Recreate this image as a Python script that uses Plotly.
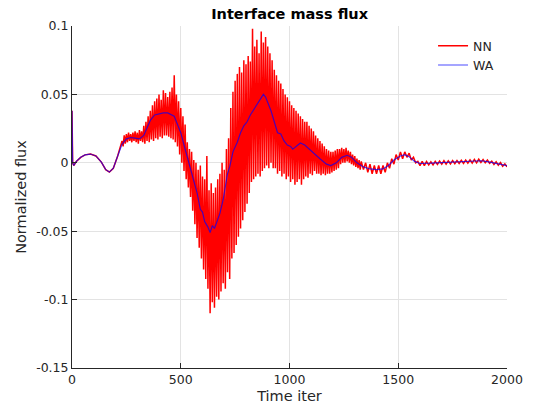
import plotly.graph_objects as go

# ---- data ----
WA_iter = [0, 3, 8, 20, 40, 60, 85, 110, 135, 155, 172, 190, 210, 230, 250, 270, 290, 310, 330, 345,
           360, 380, 400, 420, 440, 455, 470, 485, 500, 515, 530, 545, 560, 575, 590, 600, 610, 625, 635,
           645, 655, 665, 680, 695, 705, 715, 725, 740, 760, 775, 790, 805, 820, 835, 850, 865, 880, 890,
           900, 915, 930, 945, 960, 975, 990, 1005, 1015, 1030, 1050, 1070, 1090, 1110, 1140, 1170, 1190,
           1215, 1240, 1265, 1285, 1310, 1340, 1370, 1400, 1430, 1455, 1480, 1510, 1530, 1550, 1575, 1600,
           1650, 1700, 1750, 1800, 1850, 1880, 1910, 1950, 1980, 2000]
WA_val = [0.038, 0.0, -0.002, 0.001, 0.004, 0.0058, 0.0064, 0.005, 0.0005, -0.005, -0.0068, -0.004, 0.005,
          0.0135, 0.0175, 0.0185, 0.018, 0.0175, 0.02, 0.026, 0.031, 0.035, 0.036, 0.0365, 0.0365, 0.0355,
          0.034, 0.028, 0.022, 0.013, 0.004, -0.004, -0.013, -0.022, -0.034, -0.036, -0.043, -0.047, -0.051,
          -0.046, -0.048, -0.044, -0.037, -0.027, -0.018, -0.008, -0.003, 0.008, 0.015, 0.022, 0.027, 0.03,
          0.035, 0.039, 0.042, 0.047, 0.050, 0.048, 0.044, 0.038, 0.030, 0.022, 0.021, 0.016, 0.013, 0.012,
          0.010, 0.012, 0.0145, 0.013, 0.010, 0.007, 0.003, -0.001, -0.002, 0.0, 0.004, 0.0055, 0.004, 0.0,
          -0.003, -0.0045, -0.005, -0.0045, -0.002, 0.002, 0.005, 0.006, 0.0045, 0.001, -0.0005, -0.0003,
          0.0, 0.0005, 0.0006, 0.001, 0.0015, 0.0008, -0.0005, -0.0015, -0.002]

NN_iter_start = [0, 3, 8, 20, 40, 60, 85, 110, 135, 155, 172, 190, 210, 225]
NN_val_start = [0.038, 0.0, -0.002, 0.001, 0.004, 0.0058, 0.0064, 0.005, 0.0005, -0.005, -0.0068, -0.004,
                0.005, 0.012]
NN_iter_noisy = list(range(230, 1330, 5))
NN_val_noisy = [
    0.016, 0.012, 0.020, 0.014, 0.021, 0.015, 0.022, 0.016, 0.021, 0.015, 0.022, 0.016, 0.023, 0.015, 0.022, 0.014, 0.024, 0.016, 0.023, 0.015,
    0.027, 0.014, 0.030, 0.016, 0.034, 0.015, 0.038, 0.017, 0.042, 0.016, 0.045, 0.018, 0.047, 0.017, 0.050, 0.019, 0.046, 0.018, 0.053, 0.020,
    0.051, 0.020, 0.048, 0.019, 0.052, 0.018, 0.055, 0.017, 0.064, 0.015, 0.050, 0.012, 0.045, 0.006, 0.040, 0.000, 0.034, -0.006, 0.028, -0.012,
    0.015, -0.018, 0.010, -0.025, 0.008, -0.035, 0.002, -0.045, 0.000, -0.055, -0.005, -0.062, -0.002, -0.070, -0.010, -0.078, -0.012, -0.085, 0.005, -0.092,
    -0.020, -0.110, -0.015, -0.102, -0.022, -0.106, -0.018, -0.098, -0.012, -0.100, -0.008, -0.094, 0.000, -0.088, -0.005, -0.092, 0.010, -0.080, 0.018, -0.085,
    0.040, -0.070, 0.052, -0.066, 0.060, -0.060, 0.065, -0.054, 0.070, -0.048, 0.066, -0.042, 0.075, -0.036, 0.072, -0.030, 0.078, -0.022, 0.074, -0.014,
    0.098, -0.012, 0.085, -0.010, 0.090, -0.008, 0.080, -0.010, 0.096, -0.006, 0.088, -0.004, 0.092, -0.002, 0.085, -0.004, 0.080, 0.000, 0.075, -0.004,
    0.068, -0.004, 0.064, -0.008, 0.060, -0.006, 0.058, -0.010, 0.054, -0.008, 0.050, -0.012, 0.048, -0.010, 0.045, -0.014, 0.042, -0.012, 0.040, -0.016,
    0.038, -0.014, 0.036, -0.012, 0.034, -0.016, 0.032, -0.012, 0.030, -0.010, 0.030, -0.011, 0.027, -0.008, 0.025, -0.009, 0.023, -0.006, 0.020, -0.008,
    0.018, -0.008, 0.016, -0.009, 0.014, -0.008, 0.012, -0.009, 0.010, -0.008, 0.009, -0.008, 0.008, -0.007, 0.008, -0.006, 0.009, -0.005, 0.010, -0.004,
    0.010, -0.001, 0.011, 0.000, 0.010, 0.000, 0.011, 0.001, 0.009, 0.000, 0.008, -0.001, 0.006, -0.002, 0.005, -0.003, 0.003, -0.004, 0.002, -0.005,
]
NN_iter_calm = list(range(1330, 2001, 10))
NN_val_calm = [
    0.001, -0.005, 0.000, -0.007, -0.001, -0.008, -0.002, -0.008, -0.002, -0.008,
    -0.002, -0.007, 0.000, -0.004, 0.003, -0.001, 0.006, 0.002, 0.008, 0.003,
    0.008, 0.004, 0.007, 0.002, 0.004, 0.000, 0.001, -0.002, 0.001, -0.002,
    0.001, -0.0015, 0.0008, -0.0015, 0.001, -0.0012, 0.0012, -0.001, 0.0015, -0.001,
    0.0015, -0.0008, 0.0016, -0.0006, 0.0017, -0.0005, 0.0018, -0.0005, 0.002, -0.0003,
    0.0022, -0.0002, 0.0025, 0.0, 0.0026, 0.0002, 0.0024, 0.0, 0.002, -0.0004,
    0.0012, -0.0012, 0.0008, -0.0018, 0.0002, -0.0025, -0.0008, -0.003,
]

NN_iter = NN_iter_start + NN_iter_noisy + NN_iter_calm
NN_val = NN_val_start + NN_val_noisy + NN_val_calm

x_ticks = [0, 500, 1000, 1500, 2000]
y_ticks = [-0.15, -0.1, -0.05, 0, 0.05, 0.1]
y_tick_labels = ["-0.15", "-0.1", "-0.05", "0", "0.05", "0.1"]

FONT = "DejaVu Sans"
AX = "#262626"
GRID = "#e3e3e3"

fig = go.Figure()
fig.add_trace(go.Scatter(x=NN_iter, y=NN_val, mode="lines", name="NN",
                         line=dict(color="#ff0000", width=1.5)))
fig.add_trace(go.Scatter(x=WA_iter, y=WA_val, mode="lines", name="WA",
                         line=dict(color="rgba(0,0,255,0.7)", width=1.2)))

fig.update_layout(
    width=534, height=412,
    margin=dict(l=72, r=27, t=26, b=44),
    paper_bgcolor="white", plot_bgcolor="white",
    font=dict(family=FONT, size=12.5, color=AX),
    title=dict(text="<b>Interface mass flux</b>", x=0.5424, xanchor="center",
               y=0.966, yanchor="middle", font=dict(family=FONT, size=14.5, color="black")),
    showlegend=True,
    legend=dict(x=0.83, y=0.985, xanchor="left", yanchor="top", bgcolor="rgba(0,0,0,0)",
                font=dict(family=FONT, size=12.5, color=AX), tracegroupgap=0),
)
fig.update_xaxes(range=[0, 2000], tickvals=x_ticks, ticktext=[str(v) for v in x_ticks],
                 showline=True, linecolor=AX, linewidth=1, mirror=False,
                 ticks="inside", ticklen=5, tickcolor=AX,
                 showgrid=True, gridcolor=GRID, gridwidth=1, zeroline=False,
                 title=dict(text="Time iter", font=dict(family=FONT, size=14.5, color=AX), standoff=4))
fig.update_yaxes(range=[-0.15, 0.1], tickvals=y_ticks, ticktext=y_tick_labels,
                 showline=True, linecolor=AX, linewidth=1, mirror=False,
                 ticks="inside", ticklen=5, tickcolor=AX,
                 showgrid=True, gridcolor=GRID, gridwidth=1, zeroline=False,
                 title=dict(text="Normalized flux", font=dict(family=FONT, size=14.5, color=AX), standoff=6))

fig.write_html("out.html")
